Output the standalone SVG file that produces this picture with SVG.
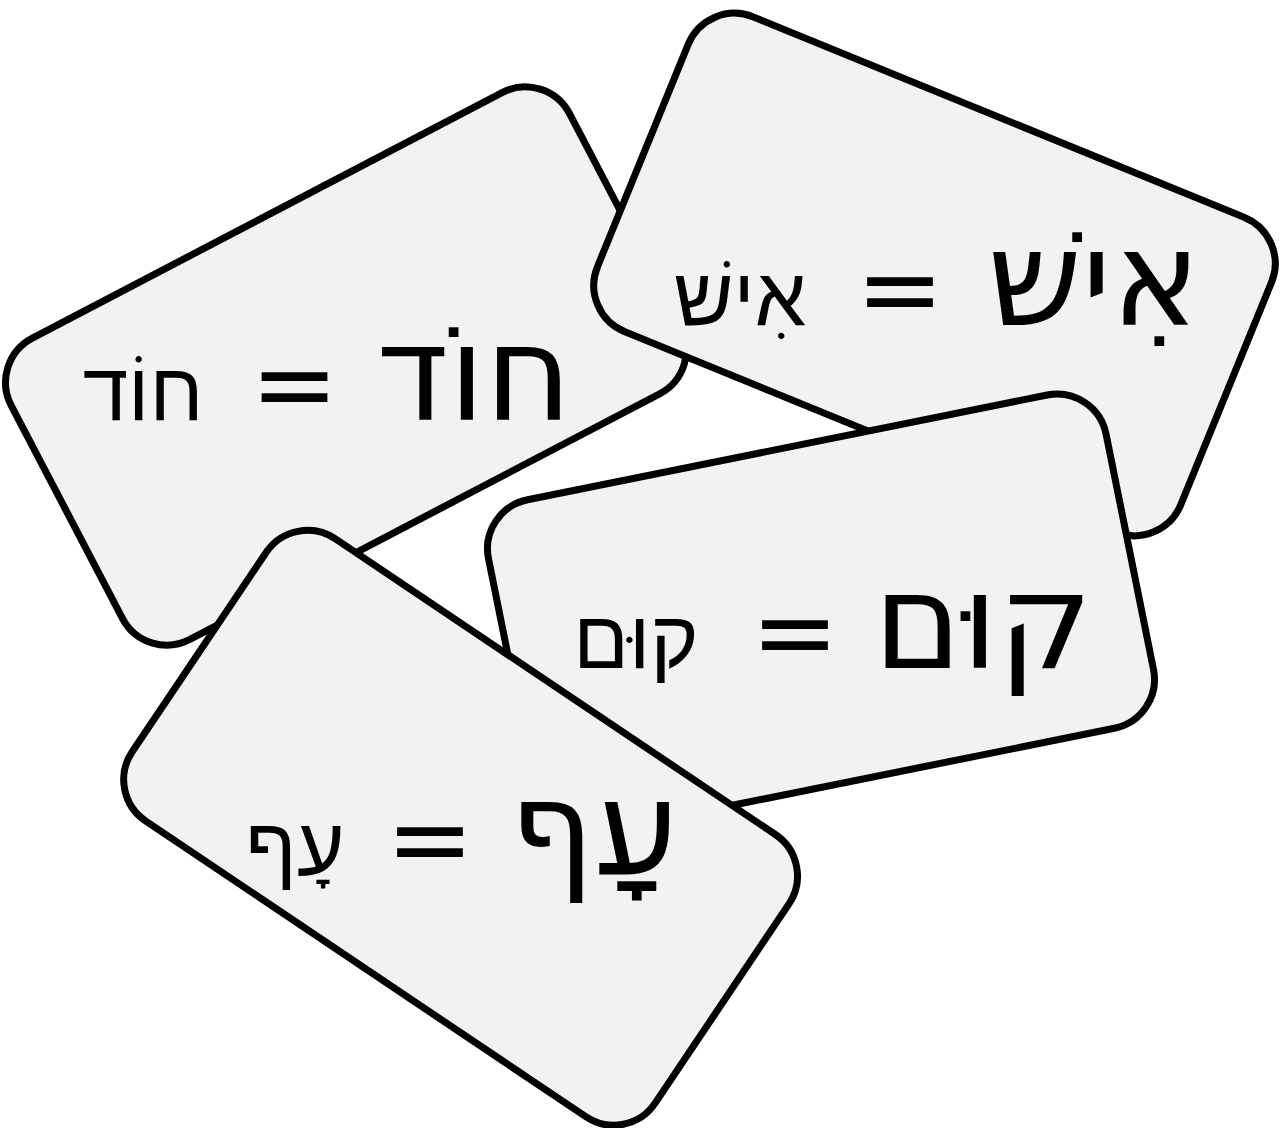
<svg xmlns="http://www.w3.org/2000/svg" width="1283" height="1128" viewBox="0 0 1283 1128">
<defs>
<style>
.card{fill:#f2f2f2;stroke:#000;stroke-width:7}
.big{font-family:"DejaVu Sans",sans-serif;font-size:133px;fill:#000;text-anchor:middle}
.eq{font-family:"DejaVu Sans",sans-serif;font-size:105px;fill:#000;text-anchor:middle}
.cur{font-family:"DejaVu Sans",sans-serif;font-size:82px;font-weight:300;fill:#000;text-anchor:middle}
</style>
<rect id="shape" x="-315" y="-170" width="630" height="340" rx="50" ry="50"/>
</defs>
<rect width="1283" height="1128" fill="#fff"/>
<g id="card-hod">
<use href="#shape" class="card" transform="translate(346,366) rotate(-27.6)"/>
<text class="cur" x="143" y="420">חוֹד</text>
<text class="eq" x="294.5" y="420">=</text>
<text class="big" x="474" y="420">חוֹד</text>
</g>
<g id="card-ish">
<use href="#shape" class="card" transform="translate(934.5,274.5) rotate(22.2)"/>
<text class="cur" x="740" y="325">אִישׁ</text>
<text class="eq" x="900" y="325">=</text>
<text class="big" x="1094" y="325">אִישׁ</text>
</g>
<g id="card-kum">
<use href="#shape" class="card" transform="translate(821,614) rotate(-11.4)"/>
<text class="cur" x="636" y="668">קוּם</text>
<text class="eq" x="795" y="668">=</text>
<text class="big" x="983" y="668">קוּם</text>
</g>
<g id="card-af">
<use href="#shape" class="card" transform="translate(460.6,827.8) rotate(33.9)"/>
<text class="cur" x="295" y="875">עָף</text>
<text class="eq" x="430" y="875">=</text>
<text class="big" x="594" y="875">עָף</text>
</g>
<g id="connectors"/>
</svg>
